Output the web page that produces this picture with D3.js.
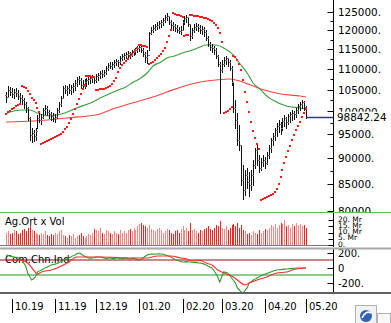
<!DOCTYPE html>
<html><head><meta charset="utf-8">
<script src="https://cdn.jsdelivr.net/npm/d3@7"></script>
<style>
body{margin:0;background:#fff}
svg{display:block}
text{font-family:"DejaVu Sans",Verdana,sans-serif;fill:#000}
</style>
</head><body>
<svg id="chart" width="391" height="323"></svg>
<script>
// Daily bars, 26.09.2019 .. 04.05.2020 (trading days)
const high = [104480,105890,105650,105420,105180,105420,104950,104240,103780,103080,102160,101020,98780,96380,95940,96380,99230,99670,99450,100800,101480,101250,100340,99900,99670,99450,100800,102160,103540,105890,106130,105890,106370,106130,106610,107330,108050,108290,107810,107330,107570,107810,108290,108290,108540,108290,108780,109020,109510,109760,109760,110750,111500,111750,111750,112250,112500,112250,113260,113770,114020,114280,114540,114280,114790,115050,115310,115830,116090,115830,115310,114280,114790,119520,120870,121410,121680,122230,122500,122780,123330,124160,124720,123880,122780,122230,121680,121410,120870,121140,122780,123880,124160,123610,121410,120600,121680,121960,121680,121410,121140,120870,120060,118450,116870,116350,115830,115310,113510,111750,112250,113000,113260,112750,112250,110750,106610,102620,99670,97030,92770,88700,87710,88110,87320,87710,89700,92150,92770,90710,90110,90710,90310,91330,92770,94240,95300,96380,97460,98120,97680,98560,99230,98780,99450,99900,100340,100120,100800,101700,102160,102620,102390,101250];
const low = [102160,103540,103780,103310,103080,103540,102850,102160,101700,100800,99900,98120,93820,93400,93610,93820,96380,97680,97240,98560,99450,99230,98560,98120,97900,97680,98560,99900,101250,103080,104240,103780,104240,104010,104480,104950,105890,106370,105420,105180,105420,105890,106370,106610,106850,106610,106850,107330,107810,108050,108290,108780,109760,110250,110000,110500,111000,110750,111250,112250,112500,112750,113000,112750,113260,113510,113770,114280,114540,114280,113260,111750,111500,114790,118990,119520,120060,120330,120600,120870,121410,122230,122780,121680,120600,120060,119790,119520,119250,118990,120060,121680,122230,121140,117400,117920,119520,120060,119790,119250,118990,118450,117400,115830,114790,114280,113770,112750,110750,99670,109270,110750,111250,110750,109760,106130,99900,96380,92770,91740,84810,82190,82930,84250,82750,83870,84810,88110,88700,87320,87710,88500,88110,88900,90110,91330,92770,93820,94660,95510,95090,95940,96810,96380,97240,97680,98120,98340,98780,99670,100340,100800,100340,98560];
const close = [103310,104950,104480,104010,104480,104240,103540,103080,102620,101700,100800,98560,94870,95300,94660,95730,98560,98120,98780,100340,100800,99900,99450,99000,98560,98780,100340,101700,103080,105420,104950,105420,104950,105650,105890,106610,107570,107330,106130,105890,106850,107330,107570,107810,108050,107330,108290,108540,109020,108780,109270,110250,111000,110750,111250,111750,112000,111750,112750,113260,113510,113770,114020,113510,114280,114540,114790,115310,115570,114790,113770,113000,113510,119250,120060,120600,121140,121410,121960,122230,122780,123610,123880,122230,121410,121140,120600,120060,119790,120060,122230,123330,123610,121680,118450,120060,120870,121140,120600,120060,120330,119520,117920,116350,115570,115310,114790,113260,111250,109760,111250,112250,112750,111750,110250,106850,100800,98120,93820,92770,85770,83870,86740,85390,84810,86740,88700,91740,89700,88110,89300,89700,89100,90710,92150,93820,94660,95940,96810,97240,96380,97900,98560,97680,99000,99450,99670,99450,100340,101250,101700,102160,101020,98842.24];
const firstOpen = 103800;

// Parabolic SAR, one point per day
const sar = [99448,99780,100119,100460,100795,101135,101475,101703,105891,105654,105300,104711,104009,103080,102504,101931,100795,99895,92979,93083,93292,93501,93711,93922,94133,94344,94556,94768,95087,95514,96052,96591,97461,98339,99448,100569,101703,102849,104009,105063,106129,108292,108244,108171,108099,108050,104946,104993,105063,105134,105228,105370,105607,105939,106367,106965,107687,109268,110252,110872,111495,111996,112499,113131,113640,114151,114663,115179,116086,116008,115878,115748,115567,111245,111370,111745,112247,112625,113131,113767,114407,115308,116870,118452,120056,124720,124496,124273,124050,123828,123607,118452,118585,118718,124162,124078,123995,123884,123773,123662,123552,123414,123248,123054,122778,122366,121955,121275,120461,119118,116870,99671,99895,100119,100569,100908,113258,112878,112247,111245,109759,107325,104476,102160,99895,97680,95729,94238,92979,91943,82009,82193,82377,82562,82747,82933,83119,83493,84057,85004,86348,87714,89102,90308,91531,92563,93817,94874,95944,96808,97680,98781,99671,100569];

// Moving averages: [day, value]
const maShort = [[0,99450],[2,99900],[8,100340],[12,100340],[17,99450],[22,99000],[26,99230],[30,99670],[36,100800],[43,101930],[48,103080],[56,104710],[61,105650],[65,106850],[68,107570],[72,109020],[75,110750],[79,111750],[82,112750],[86,113260],[90,114020],[95,114790],[99,115570],[102,116090],[107,116090],[111,115310],[116,113510],[119,111500],[123,109020],[126,106610],[130,104950],[133,103540],[136,102620],[143,101250],[150,100800],[153,100570]];
const maLong = [[0,97680],[14,97900],[31,98560],[48,99450],[53,100340],[68,102390],[75,103310],[82,104480],[99,106850],[107,107330],[114,107570],[122,106610],[130,105180],[140,104010],[150,103540],[153,103310]];

// Volume, billions TL
const volume = [10,11,9,10,12,11,9,10,12,13,11,14,16,12,11,10,9,8,10,9,11,8,7,9,8,10,9,11,12,8,7,6,8,7,9,6,7,8,10,7,6,7,9,8,10,13,12,11,14,10,9,12,11,10,9,11,10,9,12,10,11,10,12,13,11,14,12,15,17,18,16,15,14,16,13,12,11,13,14,12,10,11,13,12,10,9,11,12,10,13,15,12,14,11,18,12,13,11,10,12,11,13,14,15,13,12,14,16,15,19,14,13,15,12,14,16,17,15,18,14,16,12,11,9,10,8,11,10,9,12,10,11,13,12,14,16,15,17,14,16,18,17,20,15,16,14,17,15,18,16,17,15,16,14];

// Commodity Channel Index (daily) and its smoothed line [day, value]
const cci = [167,160,150,145,140,135,130,127,100,60,20,-73,-120,-167,-150,-127,-60,-45,-33,-20,-5,7,20,33,40,45,53,65,80,95,105,115,127,140,155,167,180,193,185,167,150,140,127,125,127,133,138,140,140,135,128,120,125,130,122,118,125,130,120,115,122,128,120,112,118,125,115,105,100,110,130,150,167,175,180,178,180,180,182,180,180,170,160,150,140,125,110,100,90,80,73,75,78,75,73,70,68,65,62,60,55,45,33,20,8,-7,-40,-80,-127,-193,-127,-60,-65,-73,-100,-140,-170,-207,-273,-300,-327,-340,-300,-273,-207,-190,-170,-155,-140,-125,-110,-100,-90,-80,-70,-60,-50,-40,-33,-30,-28,-25,-22,-20,-18,-15,-12,-10,-7,-7,-7,-6,-6,-7];
const cciAvg = [[0,100],[7,100],[11,60],[14,-33],[16,-90],[18,-60],[23,-33],[26,-7],[32,73],[36,140],[48,140],[65,127],[72,127],[77,153],[84,153],[89,127],[92,113],[95,87],[99,95],[102,60],[105,33],[108,-33],[111,-73],[116,-127],[118,-167],[122,-233],[124,-207],[128,-167],[133,-127],[138,-73],[143,-60],[146,-33],[153,-7]];

const priceTicks = [80000,85000,90000,95000,100000,105000,110000,115000,120000,125000];
const volTicks = [0,5,10,15,20];
const cciTicks = [-200,0,200];
const monthLabels = ["10.19","11.19","12.19","01.20","02.20","03.20","04.20","05.20"];
const monthStart = [3,25,46,68,90,110,132,153];

const svg = d3.select("#chart");
const axisX = 333.5;

const x = d3.scaleLinear().domain([0, close.length - 1]).range([6.1, 306]);
const y = d3.scaleLog().domain([80000, 125000]).range([211, 12]);
const yVol = d3.scaleLinear().domain([0, 20]).range([245, 220]);
const yCci = d3.scaleLinear().domain([-200, 200]).range([282.5, 252.5]);
const px = i => Math.round(x(i)) + 0.5;

const defs = svg.append("defs");
const clip = (id, y0, y1) => defs.append("clipPath").attr("id", id)
  .append("rect").attr("x", 0).attr("y", y0).attr("width", 391).attr("height", y1 - y0);
clip("cMain", 0, 212);
clip("cVol", 213, 247.5);
clip("cInd", 249.5, 292);

// ---- main price panel ----
const main = svg.append("g").attr("clip-path", "url(#cMain)");
const line = (xs, ys) => d3.line().x(xs).y(ys);

main.append("path")
  .attr("d", line(d => x(d[0]), d => y(d[1])).curve(d3.curveMonotoneX)(maLong))
  .attr("fill", "none").attr("stroke", "#ff4040").attr("stroke-width", 1.1);
main.append("path")
  .attr("d", line(d => x(d[0]), d => y(d[1])).curve(d3.curveMonotoneX)(maShort))
  .attr("fill", "none").attr("stroke", "#3c9c3c").attr("stroke-width", 1.1);

const bars = main.append("g").attr("stroke", "#111").attr("stroke-width", 1).attr("shape-rendering", "crispEdges");
close.forEach((c, i) => {
  const o = i === 0 ? firstOpen : close[i - 1];
  const xi = px(i);
  bars.append("line").attr("x1", xi).attr("x2", xi).attr("y1", Math.round(y(high[i]))).attr("y2", Math.round(y(low[i])) + 1);
  bars.append("line").attr("x1", xi - 1.5).attr("x2", xi).attr("y1", Math.round(y(o)) + 0.5).attr("y2", Math.round(y(o)) + 0.5).attr("stroke", "#777");
  bars.append("line").attr("x1", xi).attr("x2", xi + 1.5).attr("y1", Math.round(y(c)) + 0.5).attr("y2", Math.round(y(c)) + 0.5);
});

main.append("g").selectAll("rect").data(sar).join("rect")
  .attr("x", (d, i) => Math.round(x(i)) - 1).attr("y", d => Math.round(y(d)) - 1)
  .attr("width", 2).attr("height", 2)
  .attr("fill", "#ff1a1a");

// last price marker
const last = close[close.length - 1];
main.append("line").attr("x1", px(close.length - 1)).attr("x2", axisX)
  .attr("y1", Math.round(y(last)) + 0.5).attr("y2", Math.round(y(last)) + 0.5).attr("stroke", "#3030b0").attr("stroke-width", 1.5);

// price axis
const pAxis = svg.append("g").attr("clip-path", "url(#cMain)");
pAxis.append("line").attr("x1", axisX).attr("x2", axisX).attr("y1", 0).attr("y2", 212).attr("stroke", "#000");
priceTicks.forEach(v => {
  pAxis.append("line").attr("x1", axisX - 6).attr("x2", axisX).attr("y1", Math.round(y(v)) + 0.5).attr("y2", Math.round(y(v)) + 0.5).attr("stroke", "#000");
  if (v + 2500 <= 125000)
    pAxis.append("line").attr("x1", axisX - 3).attr("x2", axisX).attr("y1", Math.round(y(v + 2500)) + 0.5).attr("y2", Math.round(y(v + 2500)) + 0.5).attr("stroke", "#000");
  pAxis.append("text").attr("x", 338).attr("y", y(v) + 4).attr("font-size", 10.4).text(v + ".");
});
pAxis.append("rect").attr("x", 336).attr("y", y(last) - 5).attr("width", 55).attr("height", 11).attr("fill", "#fff");
pAxis.append("text").attr("x", 337).attr("y", y(last) + 4).attr("font-size", 10.4).text(d3.format(".2f")(last));

// separators
svg.append("line").attr("x1", 0).attr("x2", 391).attr("y1", 212.5).attr("y2", 212.5).attr("stroke", "#55c455");

// ---- volume panel ----
const vol = svg.append("g").attr("clip-path", "url(#cVol)");
vol.selectAll("line.v").data(volume).join("line").attr("class", "v")
  .attr("x1", (d, i) => px(i)).attr("x2", (d, i) => px(i))
  .attr("y1", yVol(0)).attr("y2", d => yVol(d))
  .attr("stroke", (d, i) => (i > 0 && close[i] < close[i - 1]) ? "#ff2020" : "#ff8585")
  .attr("stroke-width", 1).attr("shape-rendering", "crispEdges");
vol.append("line").attr("x1", 0).attr("x2", axisX).attr("y1", 245.5).attr("y2", 245.5).attr("stroke", "#3aa83a");
vol.append("text").attr("x", 5).attr("y", 225).attr("font-size", 10).text("Ag.Ort x Vol");
vol.append("line").attr("x1", axisX).attr("x2", axisX).attr("y1", 213).attr("y2", 247).attr("stroke", "#000");
volTicks.forEach(v => {
  vol.append("line").attr("x1", axisX - 5).attr("x2", axisX).attr("y1", Math.round(yVol(v)) + 0.5).attr("y2", Math.round(yVol(v)) + 0.5).attr("stroke", "#000");
  vol.append("text").attr("x", 338).attr("y", yVol(v) + 1.5).attr("font-size", 7.5).text(v === 0 ? "0." : v + ". Mr");
});

svg.append("rect").attr("x", 0).attr("y", 247.5).attr("width", 391).attr("height", 2).attr("fill", "#a8a8a8");

// ---- CCI panel ----
const ind = svg.append("g").attr("clip-path", "url(#cInd)");
ind.append("line").attr("x1", 0).attr("x2", axisX).attr("y1", yCci(100)).attr("y2", yCci(100)).attr("stroke", "#8b1010");
ind.append("line").attr("x1", 0).attr("x2", axisX).attr("y1", yCci(-100)).attr("y2", yCci(-100)).attr("stroke", "#1e961e");
ind.append("text").attr("x", 5).attr("y", 263).attr("font-size", 10).text("Com.Chn.Ind");
ind.append("path")
  .attr("d", line((d, i) => x(i), d => yCci(d))(cci))
  .attr("fill", "none").attr("stroke", "#2e9a2e").attr("stroke-width", 1.1);
ind.append("path")
  .attr("d", line(d => x(d[0]), d => yCci(d[1])).curve(d3.curveMonotoneX)(cciAvg))
  .attr("fill", "none").attr("stroke", "#ff2a2a").attr("stroke-width", 1.1);
ind.append("line").attr("x1", axisX).attr("x2", axisX).attr("y1", 249).attr("y2", 292).attr("stroke", "#000");
cciTicks.forEach(v => {
  ind.append("line").attr("x1", axisX - 6).attr("x2", axisX).attr("y1", Math.round(yCci(v)) + 0.5).attr("y2", Math.round(yCci(v)) + 0.5).attr("stroke", "#000");
  ind.append("text").attr("x", 338).attr("y", yCci(v) + 4).attr("font-size", 10).text(v === 0 ? "0" : v + ".");
});

svg.append("rect").attr("x", 0).attr("y", 292).attr("width", 391).attr("height", 2).attr("fill", "#606060");

// ---- time axis ----
const tAxis = svg.append("g");
monthStart.forEach((d, k) => {
  const xm = px(d);
  tAxis.append("line").attr("x1", xm).attr("x2", xm).attr("y1", 299).attr("y2", 313).attr("stroke", "#000");
  tAxis.append("text").attr("x", xm + 2.5).attr("y", 310).attr("font-size", 10).text(monthLabels[k]);
});

// toolbar button
const btn = svg.append("g");
btn.append("rect").attr("x", 355.5).attr("y", 305.5).attr("width", 21).attr("height", 18).attr("fill", "#f2f2f2").attr("stroke", "#b0b0b0");
btn.append("circle").attr("cx", 366).attr("cy", 316).attr("r", 6).attr("fill", "#2f63b8");
btn.append("path").attr("d", "M362,318 Q366,310 371,313").attr("stroke", "#fff").attr("stroke-width", 1.6).attr("fill", "none");
btn.append("rect").attr("x", 377.5).attr("y", 313.5).attr("width", 13).attr("height", 10).attr("fill", "#f8f8f8").attr("stroke", "#b0b0b0");
</script>
</body></html>
